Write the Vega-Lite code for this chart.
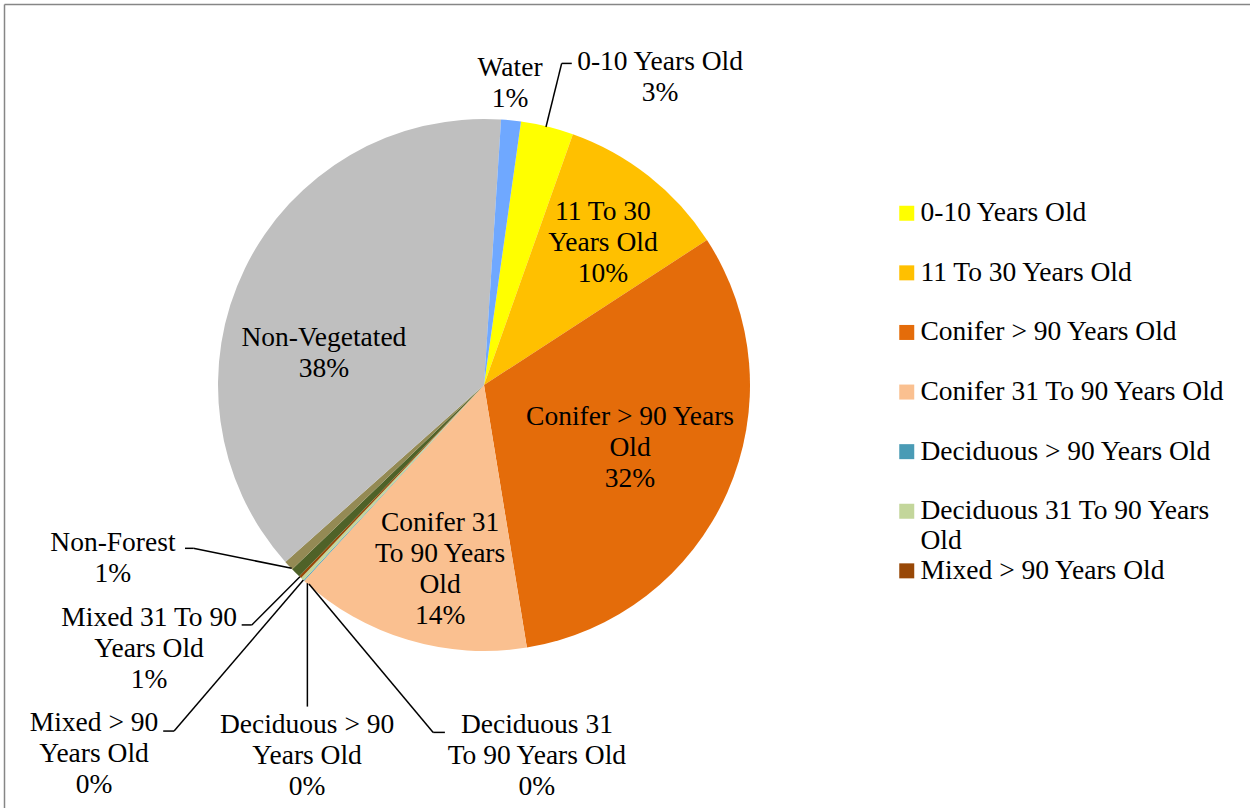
{
  "$schema": "https://vega.github.io/schema/vega-lite/v6.json",
  "width": 1246,
  "height": 804,
  "autosize": {"type": "none"},
  "padding": {"left": 4, "top": 4, "right": 0, "bottom": 0},
  "background": "white",
  "config": {
    "view": {"stroke": null},
    "axis": {"labels": false, "ticks": false, "grid": false, "domainColor": "#868686", "domainWidth": 1.5, "titleOpacity": 0},
    "text": {"font": "Liberation Serif", "fontSize": 27.5, "lineHeight": 31, "lineBreak": "\n", "align": "center", "baseline": "middle", "color": "black"},
    "rule": {"color": "black", "strokeWidth": 1.5},
    "legend": {"padding": 0}
  },
  "data": {
    "values": [
      {"idx": 1, "category": "0-10 Years Old", "value": 3.2, "label": "0-10 Years Old\n3%"},
      {"idx": 2, "category": "11 To 30 Years Old", "value": 10.4, "label": "11 To 30\nYears Old\n10%"},
      {"idx": 3, "category": "Conifer > 90 Years Old", "value": 31.6, "label": "Conifer > 90 Years\nOld\n32%"},
      {"idx": 4, "category": "Conifer 31 To 90 Years Old", "value": 14.4, "label": "Conifer 31\nTo 90 Years\nOld\n14%"},
      {"idx": 5, "category": "Deciduous > 90 Years Old", "value": 0.05, "label": "Deciduous > 90\nYears Old\n0%"},
      {"idx": 6, "category": "Deciduous 31 To 90 Years Old", "value": 0.2, "label": "Deciduous 31\nTo 90 Years Old\n0%"},
      {"idx": 7, "category": "Mixed > 90 Years Old", "value": 0.15, "label": "Mixed > 90\nYears Old\n0%"},
      {"idx": 8, "category": "Mixed 31 To 90 Years Old", "value": 0.6, "label": "Mixed 31 To 90\nYears Old\n1%"},
      {"idx": 9, "category": "Non-Forest", "value": 0.6, "label": "Non-Forest\n1%"},
      {"idx": 10, "category": "Non-Vegetated", "value": 37.6, "label": "Non-Vegetated\n38%"},
      {"idx": 11, "category": "Water", "value": 1.2, "label": "Water\n1%"}
    ]
  },
  "layer": [
    {
      "mark": {"type": "arc", "outerRadius": 266, "stroke": null},
      "encoding": {
        "x": {"datum": 0, "type": "quantitative", "scale": {"domain": [-180.451, 287.970], "nice": false, "zero": false}, "axis": {"orient": "top"}, "title": null},
        "y": {"datum": 0, "type": "quantitative", "scale": {"domain": [-159.023, 143.233], "nice": false, "zero": false}, "axis": {"orient": "left"}, "title": null},
        "theta": {"field": "value", "type": "quantitative", "stack": true, "scale": {"range": [0.1396, 6.4228]}},
        "order": {"field": "idx", "type": "quantitative"},
        "color": {
          "field": "category", "type": "nominal",
          "scale": {
            "domain": ["0-10 Years Old", "11 To 30 Years Old", "Conifer > 90 Years Old", "Conifer 31 To 90 Years Old", "Deciduous > 90 Years Old", "Deciduous 31 To 90 Years Old", "Mixed > 90 Years Old", "Mixed 31 To 90 Years Old", "Non-Forest", "Non-Vegetated", "Water"],
            "range": ["#FFFF00", "#FFC000", "#E46C0A", "#FAC090", "#4A9BB5", "#C3D69B", "#984807", "#4F6228", "#948A54", "#BFBFBF", "#6FA8FF"]
          },
          "legend": {
            "orient": "none", "legendX": 889, "legendY": 195.5, "title": null,
            "values": ["0-10 Years Old", "11 To 30 Years Old", "Conifer > 90 Years Old", "Conifer 31 To 90 Years Old", "Deciduous > 90 Years Old", "Deciduous 31 To 90 Years Old", "Mixed > 90 Years Old"],
            "symbolType": "square", "symbolSize": 225, "symbolStrokeWidth": 0, "symbolOpacity": 1,
            "labelFont": "Liberation Serif", "labelFontSize": 27.5, "labelColor": "black", "labelLimit": 400, "labelOffset": 0,
            "rowPadding": 1.6, "gridAlign": "all", "columns": 1,
            "labelExpr": "datum.label == 'Deciduous 31 To 90 Years Old' ? ['Deciduous 31 To 90 Years', 'Old'] : datum.label"
          }
        }
      }
    },
    {
      "transform": [{"filter": "datum.idx == 1"}],
      "layer": [
        {"mark": "text", "encoding": {"x": {"datum": 66.2, "type": "quantitative"}, "y": {"datum": 121.4, "type": "quantitative"}, "text": {"field": "label"}}},
        {"mark": "rule", "encoding": {"x": {"datum": 33.0, "type": "quantitative"}, "y": {"datum": 120.9, "type": "quantitative"}, "x2": {"datum": 29.2}, "y2": {"datum": 120.9}}},
        {"mark": "rule", "encoding": {"x": {"datum": 29.2, "type": "quantitative"}, "y": {"datum": 120.9, "type": "quantitative"}, "x2": {"datum": 23.3}, "y2": {"datum": 97.0}}}
      ]
    },
    {
      "transform": [{"filter": "datum.idx == 2"}],
      "mark": "text", "encoding": {"x": {"datum": 44.7, "type": "quantitative"}, "y": {"datum": 65.0, "type": "quantitative"}, "text": {"field": "label"}}
    },
    {
      "transform": [{"filter": "datum.idx == 3"}],
      "mark": "text", "encoding": {"x": {"datum": 54.9, "type": "quantitative"}, "y": {"datum": -12.0, "type": "quantitative"}, "text": {"field": "label"}}
    },
    {
      "transform": [{"filter": "datum.idx == 4"}],
      "mark": "text", "encoding": {"x": {"datum": -16.5, "type": "quantitative"}, "y": {"datum": -51.9, "type": "quantitative"}, "text": {"field": "label"}}
    },
    {
      "transform": [{"filter": "datum.idx == 5"}],
      "layer": [
        {"mark": "text", "encoding": {"x": {"datum": -66.5, "type": "quantitative"}, "y": {"datum": -127.8, "type": "quantitative"}, "text": {"field": "label"}}},
        {"mark": "rule", "encoding": {"x": {"datum": -66.4, "type": "quantitative"}, "y": {"datum": -120.9, "type": "quantitative"}, "x2": {"datum": -66.4}, "y2": {"datum": -74.5}}}
      ]
    },
    {
      "transform": [{"filter": "datum.idx == 6"}],
      "layer": [
        {"mark": "text", "encoding": {"x": {"datum": 19.9, "type": "quantitative"}, "y": {"datum": -127.8, "type": "quantitative"}, "text": {"field": "label"}}},
        {"mark": "rule", "encoding": {"x": {"datum": -14.7, "type": "quantitative"}, "y": {"datum": -130.6, "type": "quantitative"}, "x2": {"datum": -19.1}, "y2": {"datum": -130.6}}},
        {"mark": "rule", "encoding": {"x": {"datum": -19.1, "type": "quantitative"}, "y": {"datum": -130.6, "type": "quantitative"}, "x2": {"datum": -65.8}, "y2": {"datum": -74.8}}}
      ]
    },
    {
      "transform": [{"filter": "datum.idx == 7"}],
      "layer": [
        {"mark": "text", "encoding": {"x": {"datum": -146.6, "type": "quantitative"}, "y": {"datum": -127.1, "type": "quantitative"}, "text": {"field": "label"}}},
        {"mark": "rule", "encoding": {"x": {"datum": -120.6, "type": "quantitative"}, "y": {"datum": -130.1, "type": "quantitative"}, "x2": {"datum": -116.5}, "y2": {"datum": -130.1}}},
        {"mark": "rule", "encoding": {"x": {"datum": -116.5, "type": "quantitative"}, "y": {"datum": -130.1, "type": "quantitative"}, "x2": {"datum": -67.9}, "y2": {"datum": -73.3}}}
      ]
    },
    {
      "transform": [{"filter": "datum.idx == 8"}],
      "layer": [
        {"mark": "text", "encoding": {"x": {"datum": -125.9, "type": "quantitative"}, "y": {"datum": -87.6, "type": "quantitative"}, "text": {"field": "label"}}},
        {"mark": "rule", "encoding": {"x": {"datum": -91.1, "type": "quantitative"}, "y": {"datum": -90.2, "type": "quantitative"}, "x2": {"datum": -87.3}, "y2": {"datum": -90.2}}},
        {"mark": "rule", "encoding": {"x": {"datum": -87.3, "type": "quantitative"}, "y": {"datum": -90.2, "type": "quantitative"}, "x2": {"datum": -69.2}, "y2": {"datum": -72.1}}}
      ]
    },
    {
      "transform": [{"filter": "datum.idx == 9"}],
      "layer": [
        {"mark": "text", "encoding": {"x": {"datum": -139.5, "type": "quantitative"}, "y": {"datum": -59.4, "type": "quantitative"}, "text": {"field": "label"}}},
        {"mark": "rule", "encoding": {"x": {"datum": -112.4, "type": "quantitative"}, "y": {"datum": -61.4, "type": "quantitative"}, "x2": {"datum": -109.3}, "y2": {"datum": -61.4}}},
        {"mark": "rule", "encoding": {"x": {"datum": -109.3, "type": "quantitative"}, "y": {"datum": -61.4, "type": "quantitative"}, "x2": {"datum": -72.3}, "y2": {"datum": -68.9}}}
      ]
    },
    {
      "transform": [{"filter": "datum.idx == 10"}],
      "mark": "text", "encoding": {"x": {"datum": -60.2, "type": "quantitative"}, "y": {"datum": 17.7, "type": "quantitative"}, "text": {"field": "label"}}
    },
    {
      "transform": [{"filter": "datum.idx == 11"}],
      "mark": "text", "encoding": {"x": {"datum": 9.8, "type": "quantitative"}, "y": {"datum": 119.2, "type": "quantitative"}, "text": {"field": "label"}}
    }
  ]
}
